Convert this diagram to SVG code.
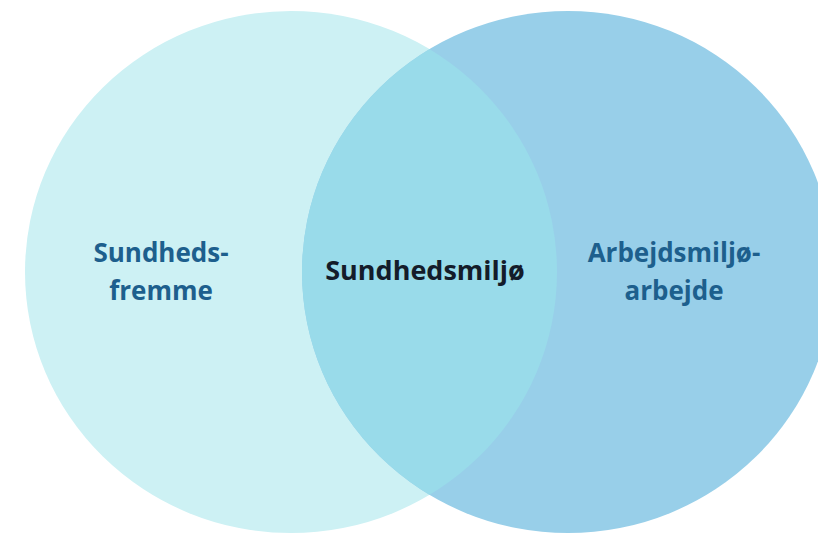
<svg xmlns="http://www.w3.org/2000/svg" width="818" height="535" viewBox="0 0 818 535">
<style>
.lbl{font-family:"Open Sans","Noto Sans","DejaVu Sans",sans-serif;font-weight:700;text-anchor:middle}
.side{fill:#1d5f8d;font-size:26px}
.mid{fill:#141c2a;font-size:27px}
</style>
<rect width="818" height="535" fill="#ffffff"/>
<g id="left">
<ellipse cx="291" cy="272" rx="266" ry="261" fill="#cdf1f4"/>
</g>
<g id="right">
<ellipse cx="568" cy="272" rx="266" ry="261" fill="#98cfe9"/>
</g>
<g id="overlap">
<clipPath id="clipL"><ellipse cx="291" cy="272" rx="266" ry="261"/></clipPath>
<ellipse cx="568" cy="272" rx="266" ry="261" fill="#99dbea" clip-path="url(#clipL)"/>
</g>
<g id="t-left">
<text class="lbl side" x="161" y="262">Sundheds-</text>
<text class="lbl side" x="161" y="300">fremme</text>
</g>
<g id="t-mid">
<text class="lbl mid" x="425" y="280">Sundhedsmiljø</text>
</g>
<g id="t-right">
<text class="lbl side" x="674" y="262">Arbejdsmiljø-</text>
<text class="lbl side" x="674" y="300">arbejde</text>
</g>
</svg>
